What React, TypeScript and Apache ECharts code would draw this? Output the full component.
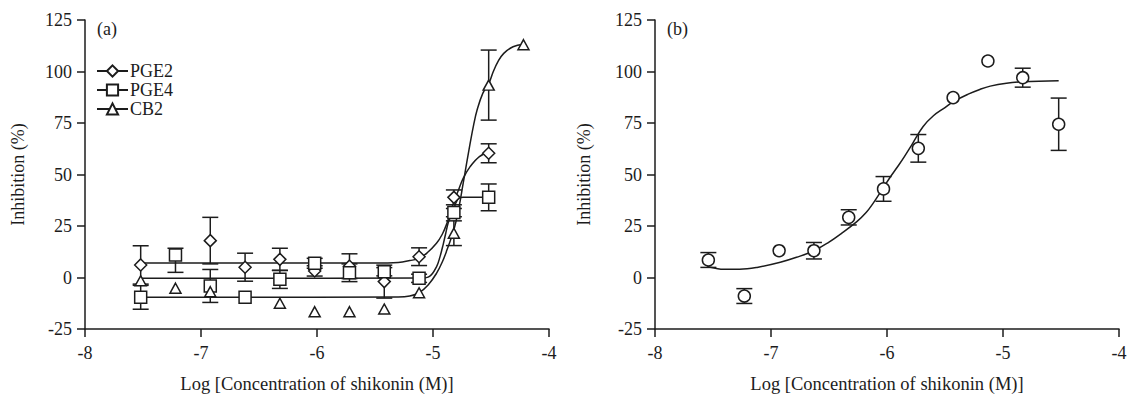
import React, { useEffect, useRef } from "react";
import * as echarts from "echarts";

// ---------- data (panel a) ----------
const xA = [-7.52, -7.22, -6.92, -6.62, -6.32, -6.02, -5.72, -5.42, -5.12, -4.82, -4.52];
const pge2 = [6.1, null, 17.9, 5.0, 8.8, 3.2, 5.5, -2.0, 10.1, 38.9, 60.3];
const pge2Err = [9.3, 0, 11.3, 6.8, 5.4, 2.5, 6.0, 8.0, 4.3, 3.6, 4.6];
const pge4 = [-9.6, 10.9, -4.1, -9.6, -0.9, 6.9, 2.3, 2.8, -0.4, 31.5, 38.9];
const pge4ErrUp = [5.8, 3.3, 8.0, 0, 4.4, 2.4, 4.3, 2.0, 2.0, 2.0, 6.5];
const pge4ErrDown = [5.8, 8.4, 8.0, 0, 4.4, 2.4, 4.3, 2.0, 2.0, 2.0, 6.5];
const xCB2 = [-7.52, -7.22, -6.92, -6.62, -6.32, -6.02, -5.72, -5.42, -5.12, -4.82, -4.52, -4.22];
const cb2 = [-1.6, -5.2, -6.9, null, -12.5, -16.6, -16.6, -15.3, -7.4, 21.5, 93.4, 113.0];
const cb2Err = [0, 0, 0, 0, 0, 0, 0, 0, 0, 6.0, 17.0, 0];

// fitted curves
const pge2Fit = [[-7.52, 7.0], [-5.5, 7.0], [-5.3, 7.3], [-5.2, 8.2], [-5.12, 9.3], [-5.05, 12.0], [-4.97, 16.6], [-4.92, 21.0], [-4.88, 26.3], [-4.85, 31.5], [-4.82, 36.8], [-4.78, 42.5], [-4.74, 48.1], [-4.68, 53.8], [-4.6, 58.7], [-4.52, 60.8]];
const pge4Fit = [[-7.52, -0.4], [-5.1, -0.3], [-5.03, 0.5], [-4.97, 5.2], [-4.94, 10.0], [-4.91, 16.6], [-4.89, 21.5], [-4.87, 26.3], [-4.845, 30.0], [-4.82, 33.5], [-4.8, 36.5], [-4.78, 38.4], [-4.74, 38.9], [-4.52, 38.9]];
const cb2Fit = [[-7.52, -9.6], [-5.3, -9.5], [-5.2, -9.0], [-5.12, -7.4], [-5.04, -3.5], [-4.97, 2.0], [-4.92, 7.5], [-4.88, 13.3], [-4.82, 23.1], [-4.78, 33.0], [-4.74, 45.7], [-4.71, 55.5], [-4.68, 65.1], [-4.65, 74.0], [-4.62, 81.3], [-4.57, 89.5], [-4.52, 94.0], [-4.48, 100.0], [-4.44, 104.8], [-4.39, 108.8], [-4.31, 112.0], [-4.22, 113.2]];

// ---------- data (panel b) ----------
const xB = [-7.54, -7.23, -6.93, -6.63, -6.33, -6.03, -5.73, -5.43, -5.13, -4.83, -4.52];
const shik = [8.5, -9.0, 13.0, 13.0, 29.2, 43.0, 62.7, 87.3, 105.1, 97.0, 74.4];
const shikErr = [3.6, 3.6, 0, 4.0, 3.7, 6.0, 6.7, 0, 0, 4.6, 12.7];
const shikFit = [[-7.55, 5.2], [-7.48, 4.5], [-7.41, 4.0], [-7.27, 4.0], [-7.12, 4.9], [-6.92, 7.4], [-6.78, 9.8], [-6.63, 13.0], [-6.5, 17.2], [-6.4, 21.1], [-6.26, 27.1], [-6.18, 31.5], [-6.12, 36.0], [-6.05, 42.0], [-5.97, 48.9], [-5.9, 54.5], [-5.85, 58.7], [-5.78, 65.0], [-5.69, 73.2], [-5.6, 78.5], [-5.5, 82.5], [-5.43, 85.3], [-5.3, 89.0], [-5.2, 91.3], [-5.11, 92.9], [-4.97, 94.3], [-4.83, 95.0], [-4.52, 95.5]];

const xTicks = { min: -8, max: -4, interval: 1 };
const yTicks = { min: -25, max: 125, interval: 25 };
const xName = "Log [Concentration of shikonin (M)]";
const yName = "Inhibition (%)";
const legendNames = ["PGE2", "PGE4", "CB2"];

const INK = "#1c1c1c";
const FONT = "Liberation Serif";
const FS = 18;

function pts(xs: number[], ys: (number | null)[]) {
  const out: number[][] = [];
  xs.forEach((x, i) => {
    if (ys[i] !== null && ys[i] !== undefined) out.push([x, ys[i] as number]);
  });
  return out;
}

function errs(xs: number[], ys: (number | null)[], up: number[], down: number[]) {
  const out: number[][] = [];
  xs.forEach((x, i) => {
    const y = ys[i];
    if (y === null || y === undefined) return;
    if (!up[i] && !down[i]) return;
    out.push([x, y - down[i], y + up[i]]);
  });
  return out;
}

const errRender = (params: any, api: any) => {
  const x = api.value(0);
  const lo = api.coord([x, api.value(1)]);
  const hi = api.coord([x, api.value(2)]);
  const w = 8;
  const style = { stroke: INK, lineWidth: 1.5, fill: "none" };
  return {
    type: "group",
    children: [
      { type: "line", shape: { x1: lo[0], y1: lo[1], x2: hi[0], y2: hi[1] }, style },
      { type: "line", shape: { x1: lo[0] - w, y1: lo[1], x2: lo[0] + w, y2: lo[1] }, style },
      { type: "line", shape: { x1: hi[0] - w, y1: hi[1], x2: hi[0] + w, y2: hi[1] }, style },
    ],
  };
};

function axisX(gridIndex: number) {
  return {
    type: "value",
    gridIndex,
    ...xTicks,
    name: xName,
    nameLocation: "middle",
    nameGap: 45,
    nameTextStyle: { color: INK, fontFamily: FONT, fontSize: 18.5, lineHeight: 19 },
    axisLine: { show: true, onZero: false, lineStyle: { color: INK, width: 1.5 } },
    axisTick: { show: true, length: 8, lineStyle: { color: INK, width: 1.5 } },
    axisLabel: { color: INK, fontFamily: FONT, fontSize: FS, margin: 15 },
    splitLine: { show: false },
  };
}

function axisY(gridIndex: number, nameGap: number) {
  return {
    type: "value",
    gridIndex,
    ...yTicks,
    name: yName,
    nameLocation: "middle",
    nameGap,
    nameTextStyle: { color: INK, fontFamily: FONT, fontSize: FS },
    axisLine: { show: true, onZero: false, lineStyle: { color: INK, width: 1.5 } },
    axisTick: { show: true, length: 8, lineStyle: { color: INK, width: 1.5 } },
    axisLabel: { color: INK, fontFamily: FONT, fontSize: FS, margin: 13 },
    splitLine: { show: false },
  };
}

const markerStyle = { color: "#fff", borderColor: INK, borderWidth: 1.5, opacity: 1 };

function fitSeries(name: string, data: number[][], idx: number, symbol: string) {
  return {
    type: "line",
    name,
    xAxisIndex: idx,
    yAxisIndex: idx,
    data,
    smooth: 0.4,
    symbol,
    symbolSize: 12,
    showSymbol: false,
    itemStyle: markerStyle,
    lineStyle: { color: INK, width: 1.5 },
    z: 2,
    silent: true,
  };
}

function markerSeries(name: string, data: number[][], idx: number, symbol: string, size: any) {
  return {
    type: "scatter",
    name,
    xAxisIndex: idx,
    yAxisIndex: idx,
    data,
    symbol,
    symbolSize: size,
    itemStyle: markerStyle,
    z: 4,
  };
}

function errSeries(name: string, data: number[][], idx: number) {
  return {
    type: "custom",
    name,
    xAxisIndex: idx,
    yAxisIndex: idx,
    data,
    renderItem: errRender,
    encode: { x: 0, y: [1, 2] },
    z: 3,
  };
}

export default function App() {
  const ref = useRef<HTMLDivElement>(null);
  useEffect(() => {
    if (!ref.current) return;
    const chart = echarts.init(ref.current, null, { renderer: "svg" });
    chart.setOption({
      animation: false,
      backgroundColor: "#fff",
      textStyle: { fontFamily: FONT },
      grid: [
        { left: 85, top: 20, width: 464, height: 309, outerBoundsMode: "none", containLabel: false },
        { left: 655, top: 20, width: 464, height: 309, outerBoundsMode: "none", containLabel: false },
      ],
      xAxis: [axisX(0), axisX(1)],
      yAxis: [axisY(0, 58), axisY(1, 62)],
      legend: {
        data: legendNames,
        orient: "vertical",
        left: 96,
        top: 62,
        padding: 0,
        itemWidth: 31,
        itemHeight: 14,
        itemGap: 1,
        textStyle: { color: INK, fontFamily: FONT, fontSize: FS, padding: [0, 0, 0, -3] },
        selectedMode: false,
      },
      graphic: [
        { type: "text", left: 97, top: 20, style: { text: "(a)", fill: INK, font: `${FS}px '${FONT}'` } },
        { type: "text", left: 667, top: 20, style: { text: "(b)", fill: INK, font: `${FS}px '${FONT}'` } },
      ],
      series: [
        fitSeries("PGE2", pge2Fit, 0, "diamond"),
        fitSeries("PGE4", pge4Fit, 0, "rect"),
        fitSeries("CB2", cb2Fit, 0, "triangle"),
        errSeries("PGE2 err", errs(xA, pge2, pge2Err, pge2Err), 0),
        errSeries("PGE4 err", errs(xA, pge4, pge4ErrUp, pge4ErrDown), 0),
        errSeries("CB2 err", errs(xCB2, cb2, cb2Err, cb2Err), 0),
        markerSeries("PGE2 pts", pts(xA, pge2), 0, "diamond", 12),
        markerSeries("PGE4 pts", pts(xA, pge4), 0, "rect", 12),
        markerSeries("CB2 pts", pts(xCB2, cb2), 0, "triangle", [11, 10]),
        fitSeries("Shikonin fit", shikFit, 1, "circle"),
        errSeries("Shikonin err", errs(xB, shik, shikErr, shikErr), 1),
        markerSeries("Shikonin", pts(xB, shik), 1, "circle", 12),
      ],
    });
    return () => chart.dispose();
  }, []);
  return (
    <div
      ref={ref}
      style={{ position: "absolute", left: 0, top: 0, width: 1129, height: 394 }}
    />
  );
}
